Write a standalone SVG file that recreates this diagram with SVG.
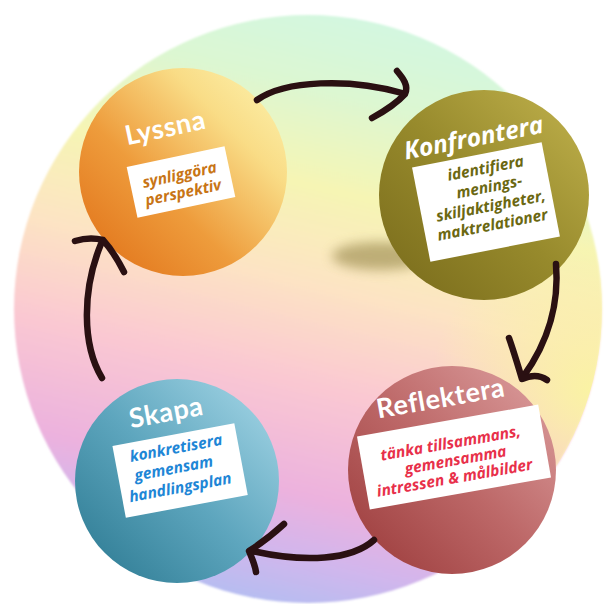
<svg xmlns="http://www.w3.org/2000/svg" width="605" height="604" viewBox="0 0 605 604">
<defs>
  <linearGradient id="bg" gradientUnits="userSpaceOnUse" x1="380" y1="15" x2="240" y2="604">
    <stop offset="0" stop-color="#d2f7e2"/>
    <stop offset="0.14" stop-color="#dcf7d2"/>
    <stop offset="0.3" stop-color="#f6f5b4"/>
    <stop offset="0.46" stop-color="#fde3c4"/>
    <stop offset="0.62" stop-color="#fac8d2"/>
    <stop offset="0.8" stop-color="#ecb2de"/>
    <stop offset="0.9" stop-color="#d2b6ec"/>
    <stop offset="1" stop-color="#b2bef2"/>
  </linearGradient>
  <radialGradient id="glow" gradientUnits="userSpaceOnUse" cx="590" cy="390" r="160">
    <stop offset="0" stop-color="#faf4a2" stop-opacity="0.95"/>
    <stop offset="1" stop-color="#faf4a2" stop-opacity="0"/>
  </radialGradient>
  <clipPath id="bgclip"><circle cx="308" cy="309" r="294"/></clipPath>
  <linearGradient id="gLy" x1="0" y1="1" x2="1" y2="0">
    <stop offset="0" stop-color="#df6c14"/>
    <stop offset="0.4" stop-color="#ee9c3c"/>
    <stop offset="0.72" stop-color="#f9dc86"/>
    <stop offset="1" stop-color="#fdf6b4"/>
  </linearGradient>
  <linearGradient id="gKo" x1="0" y1="1" x2="1" y2="0">
    <stop offset="0" stop-color="#77691a"/>
    <stop offset="0.5" stop-color="#978a2c"/>
    <stop offset="1" stop-color="#c2b34e"/>
  </linearGradient>
  <linearGradient id="gRe" x1="0" y1="1" x2="1" y2="0">
    <stop offset="0" stop-color="#993838"/>
    <stop offset="0.5" stop-color="#bd6868"/>
    <stop offset="1" stop-color="#dea2a2"/>
  </linearGradient>
  <linearGradient id="gSk" x1="0" y1="1" x2="1" y2="0">
    <stop offset="0" stop-color="#28768e"/>
    <stop offset="0.5" stop-color="#5ea6be"/>
    <stop offset="1" stop-color="#a9d9e9"/>
  </linearGradient>
  <filter id="blur" x="-50%" y="-50%" width="200%" height="200%"><feGaussianBlur stdDeviation="6"/></filter>
  <filter id="soft" x="-10%" y="-10%" width="120%" height="120%"><feGaussianBlur stdDeviation="1.2"/></filter>
</defs>
<style>
  .title { font-family: Lato, "Open Sans", "Liberation Sans", sans-serif; font-weight: bold; fill: #ffffff; font-size: 27px; letter-spacing: 0.6px; text-anchor: middle; }
  .ititle { font-family: "Open Sans", "Noto Sans", "Liberation Sans", sans-serif; font-weight: bold; font-style: italic; fill: #ffffff; font-size: 24.5px; text-anchor: middle; }
  .box { fill: #ffffff; }
  .sub { font-family: "Open Sans", "Noto Sans", "Liberation Sans", sans-serif; font-weight: bold; font-style: italic; font-size: 15.5px; text-anchor: middle; }
  .arrow { fill: none; stroke: #2a1012; stroke-width: 6.5; stroke-linecap: round; stroke-linejoin: round; }
</style>

<g id="background">
  <circle cx="308" cy="309" r="294" fill="url(#bg)" filter="url(#soft)"/>
  <g clip-path="url(#bgclip)">
    <circle cx="590" cy="390" r="160" fill="url(#glow)"/>
  </g>
  <ellipse cx="380" cy="256" rx="48" ry="14" fill="#8c7c3c" opacity="0.55" filter="url(#blur)"/>
</g>

<g id="lyssna">
  <circle cx="183" cy="172" r="104" fill="url(#gLy)"/>
  <g transform="translate(181,182) rotate(-12)">
    <text class="title" x="-4" y="-47">Lyssna</text>
    <rect class="box" x="-50" y="-26" width="100" height="52"/>
    <text class="sub" fill="#c87516" x="0" y="-2">synliggöra</text>
    <text class="sub" fill="#c87516" x="0" y="16">perspektiv</text>
  </g>
</g>

<g id="konfrontera">
  <circle cx="484" cy="195" r="105" fill="url(#gKo)"/>
  <g transform="translate(486,202) rotate(-11)">
    <text class="ititle" x="0" y="-57">Konfrontera</text>
    <rect class="box" x="-66" y="-48" width="132" height="96"/>
    <text class="sub" fill="#6b6812" font-size="14.5" x="6" y="-28">identifiera</text>
    <text class="sub" fill="#6b6812" font-size="14.5" x="6" y="-9">menings-</text>
    <text class="sub" fill="#6b6812" font-size="14.5" x="4" y="10">skiljaktigheter,</text>
    <text class="sub" fill="#6b6812" font-size="14.5" x="2" y="29">maktrelationer</text>
  </g>
</g>

<g id="reflektera">
  <circle cx="452" cy="470" r="104" fill="url(#gRe)"/>
  <g transform="translate(454,457) rotate(-10)">
    <text class="title" x="-3" y="-51">Reflektera</text>
    <rect class="box" x="-92" y="-37" width="184" height="74"/>
    <text class="sub" fill="#e8304a" x="-1" y="-9">tänka tillsammans,</text>
    <text class="sub" fill="#e8304a" x="1" y="8.5">gemensamma</text>
    <text class="sub" fill="#e8304a" x="-3" y="26">intressen &amp; målbilder</text>
  </g>
</g>

<g id="skapa">
  <circle cx="177" cy="481" r="102" fill="url(#gSk)"/>
  <g transform="translate(180,470) rotate(-10.6)">
    <text class="title" x="-3" y="-50">Skapa</text>
    <rect class="box" x="-62" y="-36" width="124" height="73"/>
    <text class="sub" fill="#1e86d6" font-size="16" x="0" y="-17">konkretisera</text>
    <text class="sub" fill="#1e86d6" font-size="16" x="-6" y="2.5">gemensam</text>
    <text class="sub" fill="#1e86d6" font-size="16" x="-3" y="22.5">handlingsplan</text>
  </g>
</g>

<g id="connectors">
  <path class="arrow" d="M257,100 C285,80 350,78 402,93"/>
  <path class="arrow" d="M397,71 C403,78 409,86 405,94 C395,105 383,112 372,118"/>
  <path class="arrow" d="M556,264 C559,300 550,340 523,377"/>
  <path class="arrow" d="M509,338 C514,352 518,366 522,379 C531,375 540,375 547,380"/>
  <path class="arrow" d="M374,540 C352,560 305,563 252,551"/>
  <path class="arrow" d="M284,524 C272,535 260,544 249,551 C252,558 255,565 256,572"/>
  <path class="arrow" d="M102,378 C82,345 82,290 101,244"/>
  <path class="arrow" d="M75,241 C85,238 95,238 103,240 C112,250 119,262 124,272"/>
</g>
</svg>
